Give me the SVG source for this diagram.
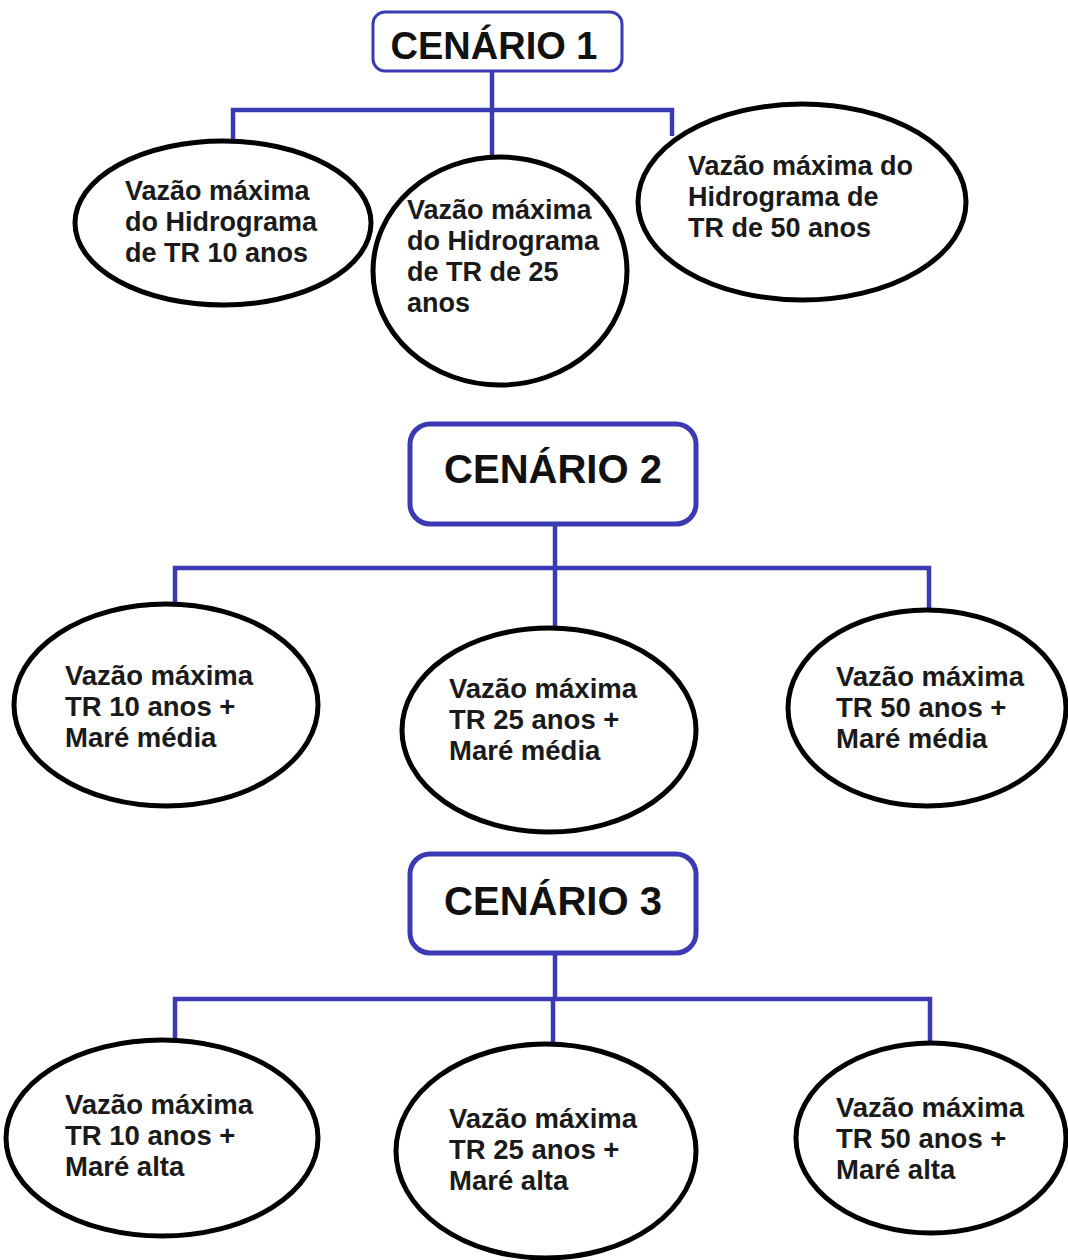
<svg xmlns="http://www.w3.org/2000/svg" width="1068" height="1260" viewBox="0 0 1068 1260">
<style>
.bg{fill:#ffffff}
.box{fill:#ffffff;stroke:#3a3ab4}
.ell{fill:#ffffff;stroke:#000000;stroke-width:5}
.conn{fill:none;stroke:#3a3ab4;stroke-width:4.5}
.title{font-family:"Liberation Sans",Arial,sans-serif;font-weight:bold;fill:#111111;text-anchor:middle}
.lbl{font-family:"Liberation Sans",Arial,sans-serif;font-weight:bold;fill:#1a1a1a;font-size:27px}
.lbl2{font-family:"Liberation Sans",Arial,sans-serif;font-weight:bold;fill:#1a1a1a;font-size:27.5px}
</style>
<rect class="bg" x="0" y="0" width="1068" height="1260"/>
<g id="connectors">
  <path class="conn" d="M492 71 V110 M233 145 V110 H672 V136 M492 110 V160"/>
  <path class="conn" d="M555 525 V568 M175 604 V568 H929 V611 M555 568 V630"/>
  <path class="conn" d="M555 953 V999 M175 1040 V999 H930 V1044 M553 999 V1044"/>
</g>
<g id="cenario1">
  <rect class="box" x="373" y="12" width="249" height="59" rx="12" stroke-width="3"/>
  <text class="title" x="494" y="59" font-size="38">CENÁRIO 1</text>
</g>
<g id="c1-tr10">
  <ellipse class="ell" cx="223" cy="223" rx="148" ry="82"/>
  <text class="lbl" x="125"><tspan x="125" y="200">Vazão máxima</tspan><tspan x="125" y="231">do Hidrograma</tspan><tspan x="125" y="262">de TR 10 anos</tspan></text>
</g>
<g id="c1-tr25">
  <ellipse class="ell" cx="500" cy="271" rx="127" ry="114"/>
  <text class="lbl" x="407"><tspan x="407" y="219">Vazão máxima</tspan><tspan x="407" y="250">do Hidrograma</tspan><tspan x="407" y="281">de TR de 25</tspan><tspan x="407" y="312">anos</tspan></text>
</g>
<g id="c1-tr50">
  <ellipse class="ell" cx="802" cy="202" rx="164" ry="98"/>
  <text class="lbl" x="688"><tspan x="688" y="175">Vazão máxima do</tspan><tspan x="688" y="206">Hidrograma de</tspan><tspan x="688" y="237">TR de 50 anos</tspan></text>
</g>
<g id="cenario2">
  <rect class="box" x="410" y="424" width="286" height="100" rx="20" stroke-width="5"/>
  <text class="title" x="553" y="483" font-size="40">CENÁRIO 2</text>
</g>
<g id="c2-tr10">
  <ellipse class="ell" cx="166" cy="705" rx="152" ry="101"/>
  <text class="lbl2" x="65"><tspan x="65" y="685">Vazão máxima</tspan><tspan x="65" y="716">TR 10 anos +</tspan><tspan x="65" y="747">Maré média</tspan></text>
</g>
<g id="c2-tr25">
  <ellipse class="ell" cx="549" cy="730" rx="147" ry="102"/>
  <text class="lbl2" x="449"><tspan x="449" y="698">Vazão máxima</tspan><tspan x="449" y="729">TR 25 anos +</tspan><tspan x="449" y="760">Maré média</tspan></text>
</g>
<g id="c2-tr50">
  <ellipse class="ell" cx="927" cy="708" rx="139" ry="98"/>
  <text class="lbl2" x="836"><tspan x="836" y="686">Vazão máxima</tspan><tspan x="836" y="717">TR 50 anos +</tspan><tspan x="836" y="748">Maré média</tspan></text>
</g>
<g id="cenario3">
  <rect class="box" x="410" y="854" width="286" height="99" rx="20" stroke-width="5"/>
  <text class="title" x="553" y="915" font-size="40">CENÁRIO 3</text>
</g>
<g id="c3-tr10">
  <ellipse class="ell" cx="162" cy="1138" rx="156" ry="98"/>
  <text class="lbl2" x="65"><tspan x="65" y="1114">Vazão máxima</tspan><tspan x="65" y="1145">TR 10 anos +</tspan><tspan x="65" y="1176">Maré alta</tspan></text>
</g>
<g id="c3-tr25">
  <ellipse class="ell" cx="546" cy="1151" rx="150" ry="107"/>
  <text class="lbl2" x="449"><tspan x="449" y="1128">Vazão máxima</tspan><tspan x="449" y="1159">TR 25 anos +</tspan><tspan x="449" y="1190">Maré alta</tspan></text>
</g>
<g id="c3-tr50">
  <ellipse class="ell" cx="931" cy="1138" rx="135" ry="95"/>
  <text class="lbl2" x="836"><tspan x="836" y="1117">Vazão máxima</tspan><tspan x="836" y="1148">TR 50 anos +</tspan><tspan x="836" y="1179">Maré alta</tspan></text>
</g>
</svg>
